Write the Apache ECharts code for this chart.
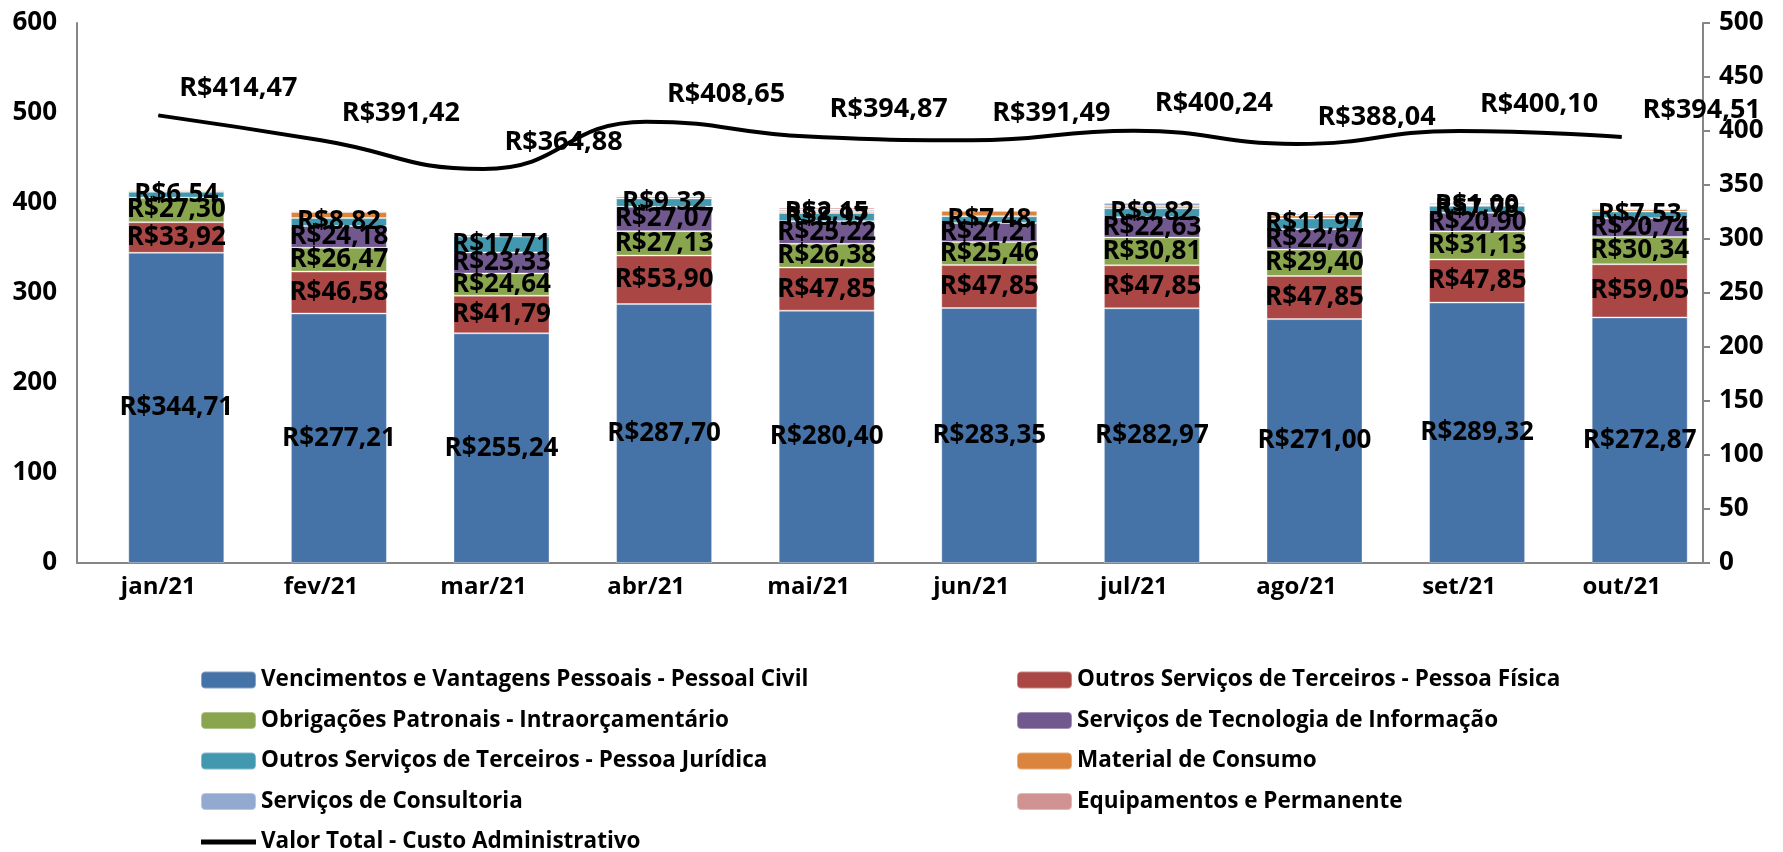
<!DOCTYPE html>
<html>
<head>
<meta charset="utf-8">
<script src="https://cdn.jsdelivr.net/npm/echarts@6/dist/echarts.min.js"></script>
<style>
html,body{margin:0;padding:0;background:#fff;}
#chart{width:1783px;height:852px;}
</style>
</head>
<body>
<div id="chart"></div>
<script>
var meses = ['jan/21', 'fev/21', 'mar/21', 'abr/21', 'mai/21', 'jun/21', 'jul/21', 'ago/21', 'set/21', 'out/21'];

var nomes = [
    'Vencimentos e Vantagens Pessoais - Pessoal Civil',
    'Outros Serviços de Terceiros - Pessoa Física',
    'Obrigações Patronais - Intraorçamentário',
    'Serviços de Tecnologia de Informação',
    'Outros Serviços de Terceiros - Pessoa Jurídica',
    'Material de Consumo',
    'Serviços de Consultoria',
    'Equipamentos e Permanente'
];
var nomeLinha = 'Valor Total - Custo Administrativo';

var vencimentos  = [344.71, 277.21, 255.24, 287.70, 280.40, 283.35, 282.97, 271.00, 289.32, 272.87];
var terceirosPF  = [33.92, 46.58, 41.79, 53.90, 47.85, 47.85, 47.85, 47.85, 47.85, 59.05];
var obrigacoes   = [27.30, 26.47, 24.64, 27.13, 26.38, 25.46, 30.81, 29.40, 31.13, 30.34];
var tecnologia   = [0, 24.18, 23.33, 27.07, 25.22, 21.21, 22.63, 22.67, 20.90, 20.74];
var terceirosPJ  = [6.54, 8.82, 17.71, 9.32, 8.97, 7.48, 9.82, 11.97, 7.78, 7.53];
var material     = [2.00, 6.66, 0, 2.00, 2.15, 6.14, 2.60, 3.25, 0, 2.48];
var consultoria  = [0, 1.50, 2.17, 1.53, 1.90, 0, 3.56, 1.90, 1.00, 1.50];
var equipamentos = [0, 0, 0, 0, 2.00, 0, 0, 0, 2.12, 0];
var valorTotal   = [414.47, 391.42, 364.88, 408.65, 394.87, 391.49, 400.24, 388.04, 400.10, 394.51];

// rótulos que aparecem nas séries pequenas: [série, mês]
var rotulosExtra = [[5, 4], [6, 8]];

var cores = ['#4572A7', '#AA4643', '#89A54E', '#71588F', '#4198AF', '#DB843D', '#93A9CF', '#D19392'];

function reais(v) {
    return 'R$' + v.toFixed(2).replace('.', ',');
}

var fonte = "'Open Sans', 'Noto Sans', sans-serif";
var valores = [vencimentos, terceirosPF, obrigacoes, tecnologia, terceirosPJ, material, consultoria, equipamentos];

// série vazia só para deslocar as colunas um pouco para a direita (como no Excel)
var seriesBar = [{
    name: 'vazio',
    type: 'bar',
    stack: 'vazio',
    barWidth: 36,
    silent: true,
    data: meses.map(function () { return '-'; })
}];

valores.forEach(function (arr, s) {
    seriesBar.push({
        name: nomes[s],
        type: 'bar',
        stack: 'total',
        barWidth: 96,
        barGap: '0%',
        itemStyle: { color: cores[s], borderColor: 'rgba(255,255,255,0.35)', borderWidth: 1 },
        data: arr.map(function (v, m) {
            var mostra = v > 0 && (s < 5 || rotulosExtra.some(function (r) { return r[0] === s && r[1] === m; }));
            return { value: v, label: { show: mostra } };
        }),
        label: {
            position: 'inside',
            color: '#000',
            fontFamily: fonte,
            fontWeight: 'bold',
            fontSize: 26,
            formatter: function (p) { return reais(p.value); }
        }
    });
});

var legendaTexto = { fontFamily: fonte, fontWeight: 'bold', fontSize: 22.5, color: '#000', lineHeight: 24 };

var myChart = echarts.init(document.getElementById('chart'));
var option = {
    animation: false,
    color: cores,
    grid: {
        left: 77,
        right: 80,
        top: 23,
        bottom: 289
    },
    legend: [{
        orient: 'vertical',
        left: 200,
        top: 668,
        padding: 0,
        height: 200,
        itemWidth: 55,
        itemHeight: 17,
        itemGap: 16.5,
        textStyle: legendaTexto,
        data: [nomes[0], nomes[2], nomes[4], nomes[6], {
            name: nomeLinha,
            icon: 'path://M0,0h55v5h-55z',
            itemStyle: { color: '#000' }
        }]
    }, {
        orient: 'vertical',
        left: 1016,
        top: 668,
        padding: 0,
        height: 200,
        itemWidth: 55,
        itemHeight: 17,
        itemGap: 16.5,
        textStyle: legendaTexto,
        data: [nomes[1], nomes[3], nomes[5], nomes[7]]
    }],
    xAxis: {
        type: 'category',
        data: meses,
        axisLine: { lineStyle: { color: '#868686', width: 2 } },
        axisTick: { show: false },
        axisLabel: { color: '#000', fontFamily: fonte, fontWeight: 'bold', fontSize: 24, margin: 12 }
    },
    yAxis: [{
        type: 'value',
        min: 0,
        max: 600,
        interval: 100,
        splitLine: { show: false },
        axisLine: { show: true, lineStyle: { color: '#868686', width: 2 } },
        axisTick: { show: false },
        axisLabel: { color: '#000', fontFamily: fonte, fontWeight: 'bold', fontSize: 26, margin: 20 }
    }, {
        type: 'value',
        min: 0,
        max: 500,
        interval: 50,
        splitLine: { show: false },
        axisLine: { show: true, lineStyle: { color: '#868686', width: 2 } },
        axisTick: { show: true, length: 7, lineStyle: { color: '#868686', width: 2 } },
        axisLabel: { color: '#000', fontFamily: fonte, fontWeight: 'bold', fontSize: 26, margin: 16 }
    }],
    series: seriesBar.concat([{
        name: nomeLinha,
        type: 'line',
        yAxisIndex: 1,
        smooth: true,
        symbol: 'circle',
        symbolSize: 1,
        showSymbol: true,
        z: 5,
        lineStyle: { color: '#000', width: 4 },
        itemStyle: { color: '#000' },
        data: valorTotal,
        label: {
            show: true,
            position: 'top',
            offset: [80, -8],
            color: '#000',
            fontFamily: fonte,
            fontWeight: 'bold',
            fontSize: 27,
            formatter: function (p) { return reais(p.value); }
        }
    }])
};
myChart.setOption(option);
</script>
</body>
</html>
